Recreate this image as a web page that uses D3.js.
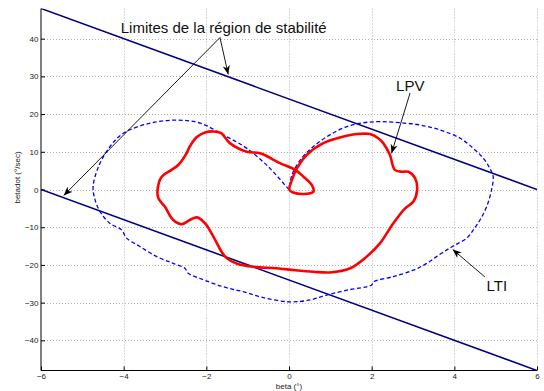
<!DOCTYPE html>
<html>
<head>
<meta charset="utf-8">
<script src="https://cdn.jsdelivr.net/npm/d3@7"></script>
<style>
  body { margin: 0; background: #fff; }
  text { font-family: "Liberation Sans", Arial, sans-serif; }
</style>
</head>
<body>
<svg id="chart" width="544" height="391"></svg>
<script>
// axis ticks
const xTicks = [-6, -4, -2, 0, 2, 4, 6];
const yTicks = [-40, -30, -20, -10, 0, 10, 20, 30, 40];

// stability limits (straight lines)
const limitX = [-6, 6];
const upperLimitY = [48, 0];
const lowerLimitY = [0, -48];

// LPV trajectory (beta, betadot)
const lpvX = [-1.84, -2.03, -2.23, -2.40, -2.48, -2.68, -2.84, -3.08, -3.18, -3.16, -3.00, -2.80, -2.60, -2.40, -2.23, -2.03,
  -1.83, -1.63, -1.51, -1.27, -0.86, -0.30, 0.15, 0.59, 0.99, 1.48, 1.88, 2.20, 2.52, 2.81, 3.01, 3.10, 3.05, 2.89,
  2.73, 2.56, 2.44, 2.28, 2.16, 1.96, 1.64, 1.23, 0.83, 0.43, 0.19, 0.07, 0.01, 0.10, 0.35, 0.59, 0.55, 0.35, 0.15,
  -0.22, -0.70, -1.02, -1.43, -1.65];
const lpvY = [15.4, 15.1, 13.9, 11.4, 9.6, 6.5, 5.2, 3.4, -0.1, -2.3, -4.6, -8.1, -9.2, -8.1, -7.4, -9.0,
  -12.5, -16.5, -18.2, -19.6, -20.5, -20.9, -21.4, -21.8, -22.0, -20.9, -17.8, -14.3, -9.0, -5.0, -3.2, -0.1, 3.0, 4.7,
  4.7, 5.2, 9.2, 12.3, 13.6, 14.7, 14.7, 13.8, 12.3, 9.2, 5.6, 2.5, -0.1, -0.8, -1.2, -0.6, 1.2, 3.4, 5.2,
  7.0, 9.6, 10.0, 12.3, 15.0];

// LTI trajectory (beta, betadot)
const ltiX = [0, -0.06, -0.46, -1.02, -1.59, -2.15, -2.72, -3.36, -4.01, -4.33, -4.61, -4.74, -4.69, -4.57, -4.33,
  -4.05, -3.93, -3.61, -3.20, -2.80, -2.52, -2.44, -2.15, -1.59, -1.11, -0.62, 0.02, 0.51, 0.91, 1.40, 2.00, 2.04,
  2.52, 3.01, 3.33, 3.57, 3.82, 4.02, 4.30, 4.46, 4.62, 4.78, 4.90, 4.94, 4.86, 4.70, 4.46, 4.14, 3.65, 3.17, 2.69,
  2.20, 1.80, 1.40, 0.99, 0.59, 0.27, 0.07, 0];
const ltiY = [0, 0.7, 5.6, 10.9, 14.5, 17.6, 18.4, 17.6, 14.9, 11.4, 6.0, 0.7, -2.8, -5.9, -9.0,
  -10.7, -12.9, -15.1, -17.8, -19.6, -20.9, -22.2, -23.6, -25.8, -27.1, -28.7, -29.8, -29.3, -28.0, -26.7, -25.3, -24.5,
  -23.1, -21.4, -19.6, -17.8, -16.0, -14.7, -12.9, -10.7, -8.1, -4.6, -0.1, 3.4, 5.6, 8.3, 10.9, 13.6, 15.8, 17.1, 17.7,
  18.0, 17.7, 16.7, 14.5, 11.4, 7.8, 3.8, 0];

// annotations: label, text position, arrows [from, to]
const notes = [
  { label: "Limites de la région de stabilité", tx: -4.07, ty: 41.6,
    arrows: [[-1.67, 40.3, -1.47, 30.5], [-1.67, 40.3, -5.45, -1.6]] },
  { label: "LPV", tx: 2.59, ty: 26.2, arrows: [[2.93, 25.6, 2.48, 9.6]] },
  { label: "LTI", tx: 4.78, ty: -26.9, arrows: [[4.74, -23.2, 3.96, -15.9]] }
];

const svg = d3.select("#chart");
const mLeft = 41, mRight = 537, mTop = 8.5, mBottom = 370.5;

const x = d3.scaleLinear().domain([-6, 6]).range([mLeft, mRight]);
const y = d3.scaleLinear().domain([-48, 48]).range([mBottom, mTop]);

// grid
const grid = svg.append("g").attr("stroke", "#b4b4b4").attr("stroke-width", 1)
  .attr("stroke-dasharray", "1,2");
grid.selectAll(".gx").data(xTicks.filter(d => d > -6)).enter().append("line")
  .attr("x1", d => Math.round(x(d)) + 0.5).attr("x2", d => Math.round(x(d)) + 0.5)
  .attr("y1", mTop).attr("y2", mBottom);
grid.selectAll(".gy").data(yTicks).enter().append("line")
  .attr("x1", mLeft).attr("x2", mRight)
  .attr("y1", d => Math.round(y(d)) + 0.5).attr("y2", d => Math.round(y(d)) + 0.5);

// axes
const xAxis = svg.append("g").attr("transform", `translate(0,${mBottom})`)
  .call(d3.axisBottom(x).tickValues(xTicks).tickSize(-4).tickPadding(3).tickFormat(d3.format("d")));
const yAxis = svg.append("g").attr("transform", `translate(${mLeft},0)`)
  .call(d3.axisLeft(y).tickValues(yTicks).tickSize(-4).tickPadding(2.5).tickFormat(d3.format("d")));
[xAxis, yAxis].forEach(a => {
  a.select(".domain").attr("stroke", "#000");
  a.selectAll(".tick line").attr("stroke", "#000");
  a.selectAll("text").attr("fill", "#222").style("font-size", "8px")
    .style("font-family", "'Liberation Sans', Arial, sans-serif");
});
xAxis.select(".domain").attr("d", `M${mLeft},0H${mRight}`);
yAxis.select(".domain").attr("d", `M0,${mBottom}V${mTop}`);

// clip
svg.append("clipPath").attr("id", "plot").append("rect")
  .attr("x", mLeft).attr("y", mTop).attr("width", mRight - mLeft).attr("height", mBottom - mTop);

const plot = svg.append("g").attr("clip-path", "url(#plot)");

// stability limits
const straight = d3.line().x(d => x(d[0])).y(d => y(d[1]));
[upperLimitY, lowerLimitY].forEach(ys => {
  plot.append("path")
    .attr("d", straight(limitX.map((v, i) => [v, ys[i]])))
    .attr("fill", "none").attr("stroke", "#000080").attr("stroke-width", 1.6);
});

// LTI dashed
const smooth = d3.line().x(d => x(d[0])).y(d => y(d[1])).curve(d3.curveCatmullRom.alpha(0.5));
plot.append("path")
  .attr("d", smooth(ltiX.map((v, i) => [v, ltiY[i]])))
  .attr("fill", "none").attr("stroke", "#0000ff").attr("stroke-width", 1.3)
  .attr("stroke-dasharray", "4,2.5");

// LPV
const closed = d3.line().x(d => x(d[0])).y(d => y(d[1])).curve(d3.curveCatmullRomClosed.alpha(0.5));
plot.append("path")
  .attr("d", closed(lpvX.map((v, i) => [v, lpvY[i]])))
  .attr("fill", "none").attr("stroke", "#ff0000").attr("stroke-width", 2.6)
  .attr("stroke-linejoin", "round");

// annotations
svg.append("defs").append("marker")
  .attr("id", "head").attr("viewBox", "0 0 10 10").attr("refX", 10).attr("refY", 5)
  .attr("markerWidth", 9).attr("markerHeight", 9).attr("markerUnits", "userSpaceOnUse")
  .attr("orient", "auto")
  .append("path").attr("d", "M0,1 L10,5 L0,9 L3,5 Z").attr("fill", "#000");

notes.forEach(n => {
  svg.append("text").attr("x", x(n.tx)).attr("y", y(n.ty))
    .style("font-size", "15px").attr("fill", "#111").text(n.label);
  n.arrows.forEach(a => {
    svg.append("line")
      .attr("x1", x(a[0])).attr("y1", y(a[1])).attr("x2", x(a[2])).attr("y2", y(a[3]))
      .attr("stroke", "#000").attr("stroke-width", 0.9).attr("marker-end", "url(#head)");
  });
});

// axis labels
svg.append("text").attr("x", x(0)).attr("y", 389).attr("text-anchor", "middle")
  .style("font-size", "8px").attr("fill", "#222").text("beta (°)");
svg.append("text").attr("transform", `translate(20,${(mTop + mBottom) / 2 - 12}) rotate(-90)`)
  .attr("text-anchor", "middle").style("font-size", "8px").attr("fill", "#222").text("betadot (°/sec)");
</script>
</body>
</html>
